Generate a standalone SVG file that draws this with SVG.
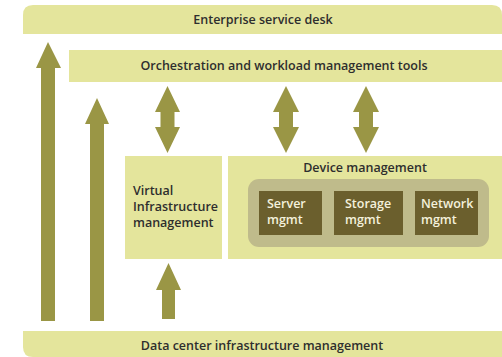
<svg xmlns="http://www.w3.org/2000/svg" width="502" height="357" viewBox="0 0 502 357">
<style>
.bar{fill:#e4e59c}
.arr{fill:#9a9645}
.inner{fill:#bfbb8b}
.dark{fill:#6b5f2d}
.t{font-family:"Open Sans","Liberation Sans",sans-serif;font-weight:600;font-size:12.5px;fill:#2e2e2e}
.w{font-family:"Open Sans","Liberation Sans",sans-serif;font-weight:600;font-size:12.5px;fill:#f4f1dc}
</style>
<rect width="502" height="357" fill="#ffffff"/>
<g id="enterprise-service-desk">
<path class="bar" d="M23,34 V15 Q23,5 33,5 H492 Q502,5 502,15 V34 Z"/>
<text class="t" x="263" y="24" text-anchor="middle">Enterprise service desk</text>
</g>
<g id="orchestration">
<rect class="bar" x="69" y="50" width="433" height="32"/>
<text class="t" x="284" y="70" text-anchor="middle">Orchestration and workload management tools</text>
</g>
<g id="virtual-infrastructure">
<rect class="bar" x="125" y="156" width="97" height="103"/>
<text class="t" x="133" y="195">Virtual</text>
<text class="t" x="133" y="211">Infrastructure</text>
<text class="t" x="133" y="227">management</text>
</g>
<g id="device-management">
<rect class="bar" x="228" y="156" width="274" height="103"/>
<text class="t" x="365" y="172" text-anchor="middle">Device management</text>
<rect class="inner" x="248" y="179" width="241" height="68" rx="11"/>
</g>
<g id="server-mgmt">
<rect class="dark" x="259" y="191" width="63" height="44"/>
<text class="w" x="267" y="208">Server</text>
<text class="w" x="267" y="224">mgmt</text>
</g>
<g id="storage-mgmt">
<rect class="dark" x="334" y="191" width="69" height="44"/>
<text class="w" x="345" y="208">Storage</text>
<text class="w" x="345" y="224">mgmt</text>
</g>
<g id="network-mgmt">
<rect class="dark" x="415" y="191" width="63" height="44"/>
<text class="w" x="421" y="208">Network</text>
<text class="w" x="421" y="224">mgmt</text>
</g>
<g id="data-center-infrastructure">
<path class="bar" d="M23,331 H502 V357 H33 Q23,357 23,347 Z"/>
<text class="t" x="262" y="350" text-anchor="middle">Data center infrastructure management</text>
</g>
<g id="connectors">
<polygon class="arr" points="48,42 61,68 55,68 55,321 41,321 41,68 36,68"/>
<polygon class="arr" points="97,98 109,124 104,124 104,321 90,321 90,124 85,124"/>
<polygon class="arr" points="167.5,86 180,112 174.5,112 174.5,127 180,127 167.5,153 155,127 160.5,127 160.5,112 155,112"/>
<polygon class="arr" points="286,86 299,112 293,112 293,127 299,127 286,153 273,127 279,127 279,112 273,112"/>
<polygon class="arr" points="366,86 379,112 373,112 373,127 379,127 366,153 353,127 359,127 359,112 353,112"/>
<polygon class="arr" points="168.5,263 181,290 175,290 175,319 162,319 162,290 156,290"/>
</g>
</svg>
